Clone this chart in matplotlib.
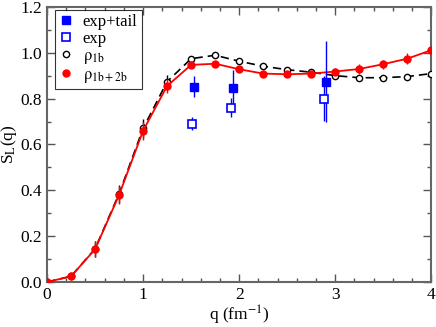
import numpy as np
import matplotlib
matplotlib.use('Agg')
import matplotlib.pyplot as plt
from matplotlib.ticker import MultipleLocator, FormatStrFormatter
from matplotlib.lines import Line2D

plt.rcParams['font.family'] = 'Liberation Serif'
plt.rcParams['mathtext.fontset'] = 'stix'

# rho_1b+2b (red)
q_2b = [0, 0.25, 0.5, 0.75, 1.0, 1.25, 1.5, 1.75, 2.0, 2.25, 2.5, 2.75, 3.0, 3.25, 3.5, 3.75, 4.0]
s_2b = [0.0, 0.025, 0.143, 0.38, 0.66, 0.855, 0.947, 0.952, 0.928, 0.909, 0.906, 0.909, 0.918, 0.929, 0.950, 0.974, 1.011]
e_2b = [0.005, 0.01, 0.035, 0.04, 0.04, 0.03, 0.015, 0.01, 0.01, 0.01, 0.01, 0.01, 0.015, 0.02, 0.02, 0.025, 0.02]

# rho_1b (black open)
q_1b = [0, 0.25, 0.5, 0.75, 1.0, 1.25, 1.5, 1.75, 2.0, 2.25, 2.5, 2.75, 3.0, 3.25, 3.5, 3.75, 4.0]
s_1b = [0.0, 0.025, 0.145, 0.385, 0.67, 0.874, 0.974, 0.989, 0.963, 0.941, 0.926, 0.915, 0.900, 0.891, 0.891, 0.896, 0.909]
e_1b = [0.005, 0.01, 0.035, 0.04, 0.04, 0.03, 0.01, 0.01, 0.01, 0.01, 0.01, 0.01, 0.01, 0.01, 0.01, 0.01, 0.01]

# experiment
q_tail = [1.53, 1.94, 2.90]
s_tail = [0.852, 0.845, 0.874]
e_tail = [0.047, 0.08, 0.175]

q_exp = [1.51, 1.917, 2.88]
s_exp = [0.691, 0.761, 0.80]
e_exp = [0.028, 0.04, 0.098]

fig = plt.figure(dpi=100, figsize=(4.36, 3.27))
ax = fig.add_axes([0.108, 0.1376, 0.881, 0.8414])

ax.errorbar(q_1b, s_1b, yerr=e_1b, color='black', ls=(0, (5, 3)), lw=1.2,
            marker='o', mfc='white', mec='black', ms=4.5, mew=1, elinewidth=1,
            capsize=0, zorder=3)
ax.errorbar(q_2b, s_2b, yerr=e_2b, color='red', ls='-', lw=1.3,
            marker='o', mfc='red', mec='red', ms=5, elinewidth=1,
            capsize=0, zorder=4)
ax.errorbar(q_tail, s_tail, yerr=e_tail, color='blue', ls='none', marker='s',
            mfc='blue', mec='blue', ms=6, elinewidth=1, capsize=0, zorder=5)
ax.errorbar(q_exp, s_exp, yerr=e_exp, color='blue', ls='none', marker='s',
            mfc='white', mec='blue', ms=6, mew=1.2, elinewidth=1, capsize=0, zorder=5)

ax.set_xlim(0, 4)
ax.set_ylim(0, 1.2)
ax.xaxis.set_major_locator(MultipleLocator(1))
ax.xaxis.set_minor_locator(MultipleLocator(0.2))
ax.yaxis.set_major_locator(MultipleLocator(0.2))
ax.yaxis.set_minor_locator(MultipleLocator(0.1))
ax.yaxis.set_major_formatter(FormatStrFormatter('%.1f'))
ax.tick_params(which='both', direction='in', top=True, right=True, labelsize=12.5, color='#555555')
ax.tick_params(which='major', length=6, width=1)
ax.tick_params(which='minor', length=3, width=1)
for s in ax.spines.values():
    s.set_linewidth(1.5)
    s.set_color('#666666')

ax.set_xlabel(r'q (fm$^{-1}$)', fontsize=12.5, labelpad=1)
ax.set_ylabel(r'S$_\mathrm{L}$(q)', fontsize=12.5)
ax.yaxis.set_label_coords(-0.072, 0.5)

handles = [
    Line2D([], [], ls='none', marker='s', mfc='blue', mec='blue', ms=6),
    Line2D([], [], ls='none', marker='s', mfc='white', mec='blue', ms=6, mew=1.2),
    Line2D([], [], ls='none', marker='o', mfc='white', mec='black', ms=4.5, mew=1),
    Line2D([], [], ls='none', marker='o', mfc='red', mec='red', ms=5),
]
labels = ['exp+tail', 'exp', r'$\mathrm{\rho_{1b}}$', r'$\mathrm{\rho_{1b+2b}}$']
leg = ax.legend(handles, labels, loc='upper left', bbox_to_anchor=(0.021, 0.989),
                fontsize=12, frameon=True, fancybox=False, edgecolor='black',
                handlelength=0.8, handletextpad=0.6, borderpad=0.25, labelspacing=0.05,
                borderaxespad=0)
leg.get_frame().set_linewidth(0.8)

fig.savefig('out.png', dpi=100)
